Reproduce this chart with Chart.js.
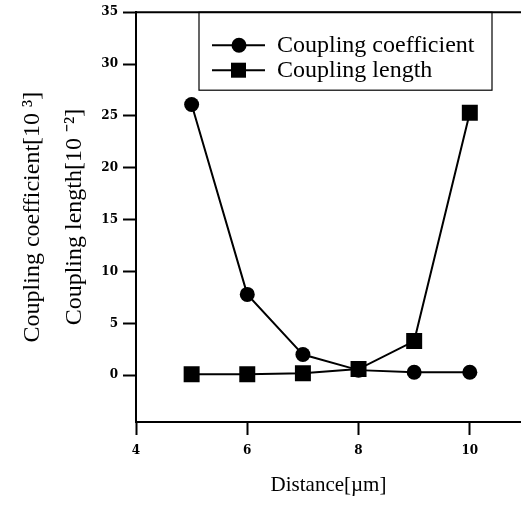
<!DOCTYPE html>
<html>
<head>
<meta charset="utf-8">
<script src="https://cdn.jsdelivr.net/npm/chart.js@4.4.1/dist/chart.umd.min.js"></script>
<style>
  body { margin: 0; background: #fff; }
  #wrap { width: 521px; height: 508px; }
</style>
</head>
<body>
<div id="wrap"><canvas id="couplingChart" width="521" height="508"></canvas></div>
<script>
const distances = [5, 6, 7, 8, 9, 10];
const couplingCoefficient = [26.1, 7.8, 2.0, 0.5, 0.3, 0.3];
const couplingLength = [0.1, 0.1, 0.2, 0.6, 3.3, 25.3];
const yTicks = [0, 5, 10, 15, 20, 25, 30, 35];
const xTicks = [4, 6, 8, 10];

const serif = "'Liberation Serif', 'Times New Roman', serif";
const tickFont = { family: "'DejaVu Serif', serif", size: 12, weight: 'bold' };

const toPoints = (xs, ys) => xs.map((x, i) => ({ x: x, y: ys[i] }));

// legend box drawn by hand: line with marker, like the printed figure
const legendBox = {
    id: 'legendBox',
    afterDraw(chart) {
        const ctx = chart.ctx;
        const top = chart.chartArea.top;
        ctx.save();
        ctx.strokeStyle = '#000';
        ctx.lineWidth = 1.2;
        ctx.strokeRect(199, top, 293, 78);

        // top border of the plot
        ctx.lineWidth = 2;
        ctx.beginPath();
        ctx.moveTo(chart.chartArea.left, top);
        ctx.lineTo(chart.chartArea.right, top);
        ctx.stroke();

        const rows = [
            { label: 'Coupling coefficient', style: 'circle', y: top + 33 },
            { label: 'Coupling length', style: 'rect', y: top + 58 }
        ];
        ctx.font = '24px ' + serif;
        ctx.textBaseline = 'middle';
        ctx.fillStyle = '#000';
        rows.forEach(r => {
            ctx.lineWidth = 2;
            ctx.beginPath();
            ctx.moveTo(212, r.y);
            ctx.lineTo(265, r.y);
            ctx.stroke();
            ctx.beginPath();
            if (r.style === 'circle') {
                ctx.arc(239, r.y, 7.5, 0, Math.PI * 2);
                ctx.fill();
            } else {
                ctx.fillRect(231, r.y - 7.5, 15, 15);
            }
            ctx.fillText(r.label, 277, r.y + 1);
        });
        ctx.restore();
    }
};

new Chart(document.getElementById('couplingChart').getContext('2d'), {
    type: 'line',
    data: {
        datasets: [
            {
                label: 'Coupling coefficient',
                data: toPoints(distances, couplingCoefficient),
                borderColor: '#000',
                backgroundColor: '#000',
                borderWidth: 2,
                pointStyle: 'circle',
                pointRadius: 7.5,
                pointBorderWidth: 0,
                order: 2
            },
            {
                label: 'Coupling length',
                data: toPoints(distances, couplingLength),
                borderColor: '#000',
                backgroundColor: '#000',
                borderWidth: 2,
                pointStyle: 'rect',
                pointRadius: 11.3,
                pointBorderWidth: 0,
                order: 1
            }
        ]
    },
    options: {
        responsive: false,
        animation: false,
        layout: { autoPadding: false, padding: { top: 12, left: 0, right: 0, bottom: 0 } },
        plugins: {
            legend: { display: false },
            tooltip: { enabled: false }
        },
        scales: {
            x: {
                type: 'linear',
                min: 4,
                max: 10.92,
                ticks: {
                    stepSize: 2,
                    includeBounds: false,
                    padding: 9,
                    color: '#000',
                    font: tickFont
                },
                afterBuildTicks: scale => {
                    scale.ticks = xTicks.map(v => ({ value: v }));
                },
                afterFit: scale => { scale.height = 86; },
                grid: {
                    drawOnChartArea: false,
                    drawTicks: true,
                    tickLength: 13,
                    tickWidth: 2,
                    tickColor: '#000'
                },
                border: { display: true, color: '#000', width: 2 },
                title: {
                    display: true,
                    text: 'Distance[\u00b5m]',
                    color: '#000',
                    font: { family: serif, size: 21 },
                    padding: { top: 0, bottom: 10 }
                }
            },
            y: {
                min: -4.5,
                max: 35,
                ticks: {
                    stepSize: 5,
                    includeBounds: false,
                    padding: 5,
                    color: '#000',
                    font: tickFont
                },
                afterBuildTicks: scale => {
                    scale.ticks = yTicks.map(v => ({ value: v }));
                },
                afterFit: scale => { scale.width = 136; },
                grid: {
                    drawOnChartArea: false,
                    drawTicks: true,
                    tickLength: 13,
                    tickWidth: 2,
                    tickColor: '#000'
                },
                border: { display: true, color: '#000', width: 2 },
                title: {
                    display: true,
                    text: ['Coupling coefficient[10 \u00b3]', 'Coupling length[10 \u207b\u00b2]'],
                    color: '#000',
                    font: { family: serif, size: 24, lineHeight: 1.75 },
                    padding: { top: 12, bottom: 0 }
                }
            }
        }
    },
    plugins: [legendBox]
});
</script>
</body>
</html>
